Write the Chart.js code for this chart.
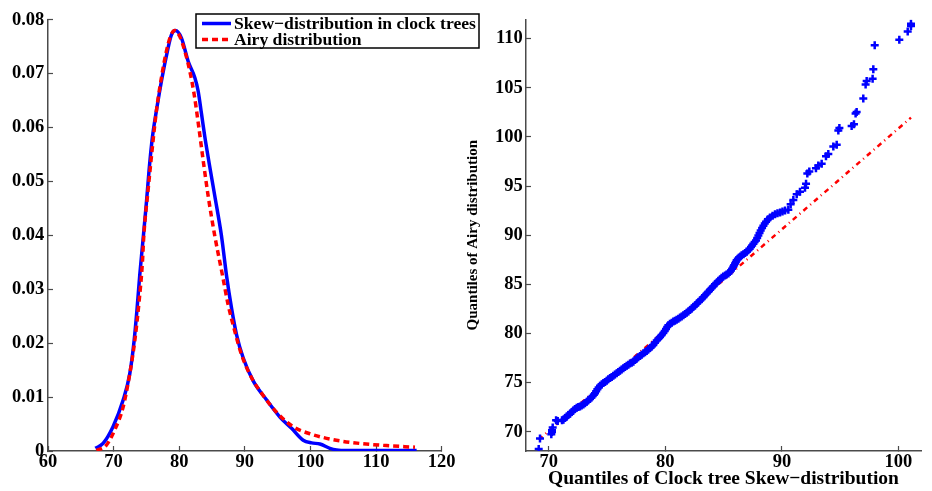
<!DOCTYPE html>
<html>
<head>
<meta charset="utf-8">
<script src="https://cdn.jsdelivr.net/npm/chart.js@4.4.1/dist/chart.umd.min.js"></script>
<style>
  body { margin: 0; background: #fff; }
  #wrap { position: relative; width: 932px; height: 491px; }
  canvas { position: absolute; top: 0; }
</style>
</head>
<body>
<div id="wrap">
  <canvas id="pdf" width="490" height="491" style="left:0"></canvas>
  <canvas id="qq" width="466" height="491" style="left:466px"></canvas>
</div>
<script>
// density estimate of the clock tree skew
const skewX = [67.22, 68.39, 69.91, 71.44, 72.46, 73.12, 73.58, 73.98, 74.39, 75.0, 75.41, 75.92,
  76.53, 77.39, 78.2, 78.81, 79.43, 80.34, 81.36, 82.37, 82.88, 83.39, 83.9, 84.56, 85.42, 86.44,
  87.2, 87.97, 88.73, 89.74, 91.27, 93.3, 95.34, 97.12, 98.89, 100.17, 101.44, 102.96, 103.98,
  105.5, 116.18];
const skewDensity = [0.0005, 0.0014, 0.0045, 0.0094, 0.0143, 0.0204, 0.0265, 0.0326, 0.038, 0.0461,
  0.0522, 0.0583, 0.0632, 0.0693, 0.0742, 0.0772, 0.078, 0.0766, 0.0723, 0.0693, 0.0668, 0.0626,
  0.0583, 0.0534, 0.0473, 0.0399, 0.0326, 0.0265, 0.0216, 0.0173, 0.013, 0.0095, 0.0063, 0.0042,
  0.002, 0.0015, 0.0013, 0.0005, 0.0002, 0.0001, 0.0001];

// fitted Airy density
const airyX = [67.38, 68.9, 70.17, 71.44, 72.46, 73.22, 73.88, 74.39, 74.6, 75.26, 75.92, 76.53,
  77.29, 78.05, 78.66, 79.32, 80.09, 80.85, 81.61, 82.27, 82.98, 83.64, 84.41, 85.42, 86.59, 87.46,
  88.47, 89.49, 91.02, 92.8, 94.83, 97.37, 99.91, 103.47, 107.54, 111.6, 115.93];
const airyDensity = [0.0001, 0.0011, 0.0039, 0.0081, 0.0143, 0.0204, 0.0277, 0.035, 0.0399, 0.0485,
  0.0565, 0.0632, 0.0693, 0.0742, 0.0769, 0.078, 0.0769, 0.0742, 0.0705, 0.0662, 0.0601, 0.054,
  0.0473, 0.0399, 0.0326, 0.0271, 0.0222, 0.0179, 0.0136, 0.0103, 0.0072, 0.0045, 0.0032, 0.0021,
  0.0014, 0.001, 0.0007];

const pdfXTicks = [60, 70, 80, 90, 100, 110, 120];
const pdfYTicks = [0, 0.01, 0.02, 0.03, 0.04, 0.05, 0.06, 0.07, 0.08];
const pdfYTickLabels = ['0', '0.01', '0.02', '0.03', '0.04', '0.05', '0.06', '0.07', '0.08'];

// quantile pairs: skew sample vs Airy (dense middle run listed after the sparse tails)
const qqSkew = [69.14, 69.25, 70.22, 70.28, 70.28, 70.34, 70.63, 70.77, 71.14,
  71.26, 71.54, 71.83, 72.11, 72.40, 72.68, 72.97, 73.26, 73.54, 73.77, 73.97, 74.17, 74.40, 74.69,
  74.97, 75.26, 75.54, 75.83, 76.11, 76.40, 76.69, 76.97, 77.26, 77.54, 77.83, 78.12, 78.40, 78.69,
  78.97, 79.26, 79.55, 79.83, 80.06, 80.26, 80.55, 80.83, 81.12, 81.40, 81.69, 81.98, 82.26, 82.55,
  82.83, 83.12, 83.40, 83.69, 83.98, 84.26, 84.55, 84.83, 85.12, 85.41, 85.63, 85.83, 85.98, 86.12,
  86.32, 86.55, 86.84, 87.12, 87.35, 87.55, 87.78, 87.98, 88.18, 88.41, 88.64, 88.98, 89.41, 89.84,
  90.27, 90.55, 90.75, 90.98, 91.27, 91.55, 91.98, 92.07, 92.18, 92.35, 92.92, 93.12, 93.41, 93.78,
  93.98, 94.41, 94.70, 94.84, 94.93, 95.98, 96.18, 96.32, 96.41, 96.98, 97.18, 97.27, 97.78, 97.84,
  97.96, 100.07, 100.79, 101.07, 101.07,
  71.40, 71.68, 71.97, 72.25, 72.54, 72.82, 73.11, 73.40, 73.66, 73.87, 74.07, 74.28, 74.55, 74.83,
  75.11, 75.40, 75.68, 75.97, 76.25, 76.54, 76.83, 77.11, 77.40, 77.68, 77.97, 78.26, 78.54, 78.83,
  79.11, 79.40, 79.69, 79.95, 80.16, 80.40, 80.69, 80.97, 81.26, 81.55, 81.83, 82.12, 82.40, 82.69,
  82.97, 83.26, 83.55, 83.83, 84.12, 84.40, 84.69, 84.97, 85.26, 85.52, 85.73, 85.90, 86.05, 86.22,
  86.44, 86.70, 86.98, 87.23, 87.45, 87.66, 87.88, 88.08, 88.30, 88.53, 88.80, 89.20, 89.62, 90.05];
const qqAiry = [68.25, 69.32, 69.76, 69.99, 70.16, 70.43, 71.17, 71.10, 71.17,
  71.24, 71.57, 71.84, 72.18, 72.44, 72.58, 72.78, 73.05, 73.35, 73.65, 73.92, 74.32, 74.69, 74.96,
  75.20, 75.47, 75.70, 75.97, 76.20, 76.47, 76.71, 76.94, 77.14, 77.45, 77.71, 77.98, 78.22, 78.52,
  78.82, 79.30, 79.65, 80.05, 80.45, 80.85, 81.10, 81.31, 81.51, 81.74, 81.98, 82.25, 82.55, 82.85,
  83.19, 83.52, 83.89, 84.26, 84.63, 85.00, 85.33, 85.67, 85.90, 86.11, 86.41, 86.78, 87.11, 87.45,
  87.72, 87.95, 88.19, 88.46, 88.79, 89.13, 89.47, 89.97, 90.47, 90.97, 91.38, 91.81, 92.12, 92.32,
  92.52, 92.58, 93.15, 93.59, 94.16, 94.43, 94.83, 95.24, 96.28, 96.48, 96.81, 97.08, 97.28, 98.02,
  98.26, 99.03, 99.20, 100.64, 100.91, 101.11, 101.28, 102.39, 102.52, 103.90, 105.34, 105.68, 105.91,
  106.88, 109.33, 109.87, 110.71, 111.28, 111.51,
  71.40, 71.72, 72.02, 72.33, 72.52, 72.67, 72.90, 73.20, 73.50, 73.78, 74.12, 74.51, 74.84, 75.08,
  75.34, 75.58, 75.84, 76.08, 76.33, 76.59, 76.83, 77.03, 77.30, 77.58, 77.85, 78.10, 78.37, 78.67,
  79.05, 79.47, 79.85, 80.25, 80.66, 80.99, 81.21, 81.41, 81.62, 81.86, 82.11, 82.40, 82.70, 83.02,
  83.35, 83.70, 84.07, 84.45, 84.82, 85.17, 85.50, 85.79, 86.00, 86.25, 86.60, 86.95, 87.28, 87.60,
  87.84, 88.07, 88.32, 88.62, 88.96, 89.30, 89.72, 90.22, 90.72, 91.18, 91.62, 91.98, 92.23, 92.42];

// reference line through the quartiles, extended to the data range
const qqLineSkew = [69.14, 101.07];
const qqLineAiry = [69.20, 101.96];

const qqXTicks = [70, 80, 90, 100];
const qqYTicks = [70, 75, 80, 85, 90, 95, 100, 105, 110];

const BLUE = '#0000ff';
const RED = '#ff0000';
const AXIS = '#4a4a4a';
const SERIF = '"Liberation Serif", "Times New Roman", serif';

Chart.defaults.font.family = SERIF;
Chart.defaults.font.size = 18.5;
Chart.defaults.font.weight = 'bold';
Chart.defaults.color = '#000';

const pts = (xs, ys) => xs.map((x, i) => ({ x, y: ys[i] }));

// inward ticks: negative tick length, labels pushed back out with padding
function axisOptions({ min, max, ticks, labels, size, padding, title }) {
  return {
    type: 'linear',
    min,
    max,
    afterBuildTicks: scale => {
      scale.ticks = ticks.map(value => ({ value }));
    },
    afterFit: scale => {
      if (scale.isHorizontal()) scale.height = size;
      else scale.width = size;
    },
    grid: {
      drawOnChartArea: false,
      tickLength: -5,
      tickColor: AXIS,
      tickWidth: 1.2,
    },
    border: { color: AXIS, width: 1.5 },
    ticks: {
      padding,
      autoSkip: false,
      maxRotation: 0,
      callback: (v, i) => (labels ? labels[i] : String(v)),
    },
    title: title || { display: false },
  };
}

const legendBox = {
  id: 'legendBox',
  afterDraw(chart) {
    const { ctx } = chart;
    const x0 = 196, y0 = 14, w = 283, h = 34;
    ctx.save();
    ctx.fillStyle = '#fff';
    ctx.fillRect(x0, y0, w, h);
    ctx.strokeStyle = '#000';
    ctx.lineWidth = 1.5;
    ctx.strokeRect(x0, y0, w, h);
    ctx.font = 'bold 17.6px ' + SERIF;
    ctx.textBaseline = 'middle';
    ctx.fillStyle = '#000';
    chart.data.datasets.forEach((ds, i) => {
      const y = y0 + 9.5 + i * 16;
      ctx.beginPath();
      ctx.strokeStyle = ds.borderColor;
      ctx.lineWidth = ds.borderWidth;
      ctx.setLineDash(ds.borderDash || []);
      ctx.moveTo(202, y);
      ctx.lineTo(231, y);
      ctx.stroke();
      ctx.setLineDash([]);
      ctx.fillText(ds.label, 234, y + 1);
    });
    ctx.restore();
  },
};

new Chart(document.getElementById('pdf'), {
  type: 'line',
  data: {
    datasets: [
      {
        label: 'Skew\u2212distribution in clock trees',
        data: pts(skewX, skewDensity),
        borderColor: BLUE,
        borderWidth: 3.5,
        pointRadius: 0,
        cubicInterpolationMode: 'monotone',
        order: 1,
      },
      {
        label: 'Airy distribution',
        data: pts(airyX, airyDensity),
        borderColor: RED,
        borderWidth: 3.5,
        borderDash: [6, 4],
        pointRadius: 0,
        cubicInterpolationMode: 'monotone',
        order: 0,
      },
    ],
  },
  options: {
    responsive: false,
    devicePixelRatio: 1,
    animation: false,
    layout: { padding: { left: 0, right: 48.3, top: 15, bottom: 0 } },
    plugins: { legend: { display: false }, tooltip: { enabled: false } },
    scales: {
      x: axisOptions({ min: 60, max: 120, ticks: pdfXTicks, size: 40, padding: 5 }),
      y: axisOptions({ min: 0, max: 0.08, ticks: pdfYTicks, labels: pdfYTickLabels, size: 48, padding: 8.7 }),
    },
  },
  plugins: [legendBox],
});

new Chart(document.getElementById('qq'), {
  type: 'scatter',
  data: {
    datasets: [
      {
        label: 'Quantiles',
        data: pts(qqSkew, qqAiry),
        pointStyle: 'cross',
        pointRadius: 4,
        pointBorderWidth: 2.5,
        borderColor: BLUE,
        backgroundColor: BLUE,
        showLine: false,
        order: 0,
      },
      {
        label: 'Fit',
        type: 'line',
        data: pts(qqLineSkew, qqLineAiry),
        borderColor: RED,
        borderWidth: 2.5,
        borderDash: [5, 4, 1, 4],
        pointRadius: 0,
        order: 1,
      },
    ],
  },
  options: {
    responsive: false,
    devicePixelRatio: 1,
    animation: false,
    layout: { padding: { left: 0, right: 11, top: 15, bottom: 0 } },
    plugins: { legend: { display: false }, tooltip: { enabled: false } },
    scales: {
      x: axisOptions({
        min: 68.05, max: 101.93, ticks: qqXTicks, size: 40, padding: 5,
        title: {
          display: true,
          text: 'Quantiles of Clock tree Skew\u2212distribution',
          font: { size: 19.5, weight: 'bold', lineHeight: 1 },
          padding: { top: 0, bottom: 2.5 },
        },
      }),
      y: axisOptions({
        min: 68.05, max: 111.95, ticks: qqYTicks, size: 60, padding: 8.3,
        title: {
          display: true,
          text: 'Quantiles of Airy distribution',
          font: { size: 15, weight: 'bold', lineHeight: 1 },
          padding: { top: 0, bottom: 0 },
        },
      }),
    },
  },
});
</script>
</body>
</html>
